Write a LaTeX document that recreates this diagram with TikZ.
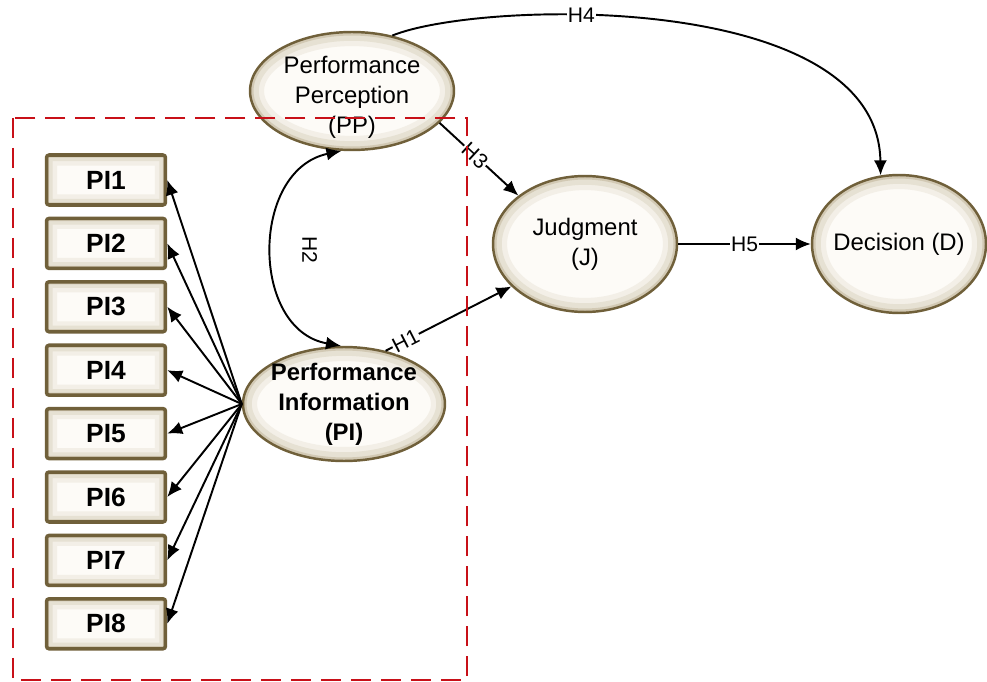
\documentclass[tikz,border=0pt]{standalone}
\usepackage{fontspec}
\setmainfont{Liberation Sans}
\usetikzlibrary{arrows.meta,shapes.geometric,calc}
\definecolor{rimbrown}{RGB}{112,96,58}
\definecolor{glowmid}{RGB}{253,251,247}
\definecolor{glowedge}{RGB}{196,185,158}
\definecolor{boxred}{RGB}{200,16,24}
\newcommand{\ellrim}[2]{\draw[glowedge!#1!glowmid, line width=#2] let \p1=(path picture bounding box.north east), \p2=(path picture bounding box.center) in (\p2) ellipse [x radius=\x1-\x2, y radius=\y1-\y2];}
\newcommand{\boxrim}[2]{\draw[glowedge!#1!glowmid, line width=#2] (path picture bounding box.south west) rectangle (path picture bounding box.north east);}
\tikzset{
  construct/.style={ellipse, draw=rimbrown, line width=1.4pt, fill=glowmid, inner sep=0pt,
    path picture={\ellrim{18}{16pt}\ellrim{40}{10pt}\ellrim{75}{4pt}}},
  indicator/.style={rectangle, rounded corners=1.5pt, draw=rimbrown, line width=2pt, fill=glowmid,
    path picture={\boxrim{18}{12pt}\boxrim{40}{7pt}\boxrim{75}{3pt}},
    minimum width=2.38cm, minimum height=1cm, font=\fontsize{15}{18}\selectfont\bfseries},
  hyparrow/.style={line width=1.1pt, -{Latex[length=3mm,width=2.6mm]}},
  hyplabel/.style={fill=white, inner sep=0.6pt, font=\fontsize{12}{14}\selectfont},
  inside/.style={align=center, font=\fontsize{13.6}{17}\selectfont},
}

\begin{document}
\begin{tikzpicture}[x=0.02cm, y=-0.02cm]
	%%%%% START %%%%%
	\useasboundingbox (0,0) rectangle (987,682);

	% constructs
	\node[construct, minimum width=4.08cm, minimum height=2.36cm,
	  label={[inside, yshift=-0.12cm]center:Performance\\Perception\\(PP)}] (PP) at (352,91) {};
	\node[construct, minimum width=4.04cm, minimum height=2.28cm,
	  label={[inside, font=\fontsize{13.6}{17}\selectfont\bfseries]center:Performance\\Information\\(PI)}] (PI) at (344,404) {};
	\node[construct, minimum width=3.68cm, minimum height=2.72cm,
	  label={[inside]center:Judgment\\(J)}] (J) at (585,244) {};
	\node[construct, minimum width=3.48cm, minimum height=2.76cm,
	  label={[inside]center:Decision (D)}] (D) at (899,244) {};

	% indicators
	\foreach \i in {1,...,8}
		\node[indicator] (pi\i) at (106, {180+63.4*(\i-1)}) {PI\i};

	\foreach \i in {1,...,8}
		\draw[hyparrow] (PI.west) -- (pi\i.east);

	% hypotheses
	\draw[hyparrow] (PI.52) -- node[hyplabel, sloped, pos=0.16] {H1} (J.210);
	\draw[line width=1.1pt, {Latex[length=3mm,width=2.6mm]}-{Latex[length=3mm,width=2.6mm]}]
		(PP.260) .. controls (250,170) and (250,330) .. node[pos=0.5, xshift=0.74cm, rotate=-90, font=\fontsize{12}{14}\selectfont] {H2} (PI.93);
	\draw[hyparrow] (PP.-20) -- node[hyplabel, sloped, pos=0.45] {H3} (J.144);
	\draw[hyparrow] (PP.54) .. controls (480,0) and (878,-10) .. node[hyplabel, pos=0.37] {H4} (D.105);
	\draw[hyparrow] (J.east) -- node[hyplabel, pos=0.5] {H5} (D.west);

	% measurement block
	\draw[boxred, line width=1.1pt, dash pattern=on 0.4cm off 0.2cm] (13,118) rectangle (467,680);
	%%%%% END %%%%%
\end{tikzpicture}
\end{document}
